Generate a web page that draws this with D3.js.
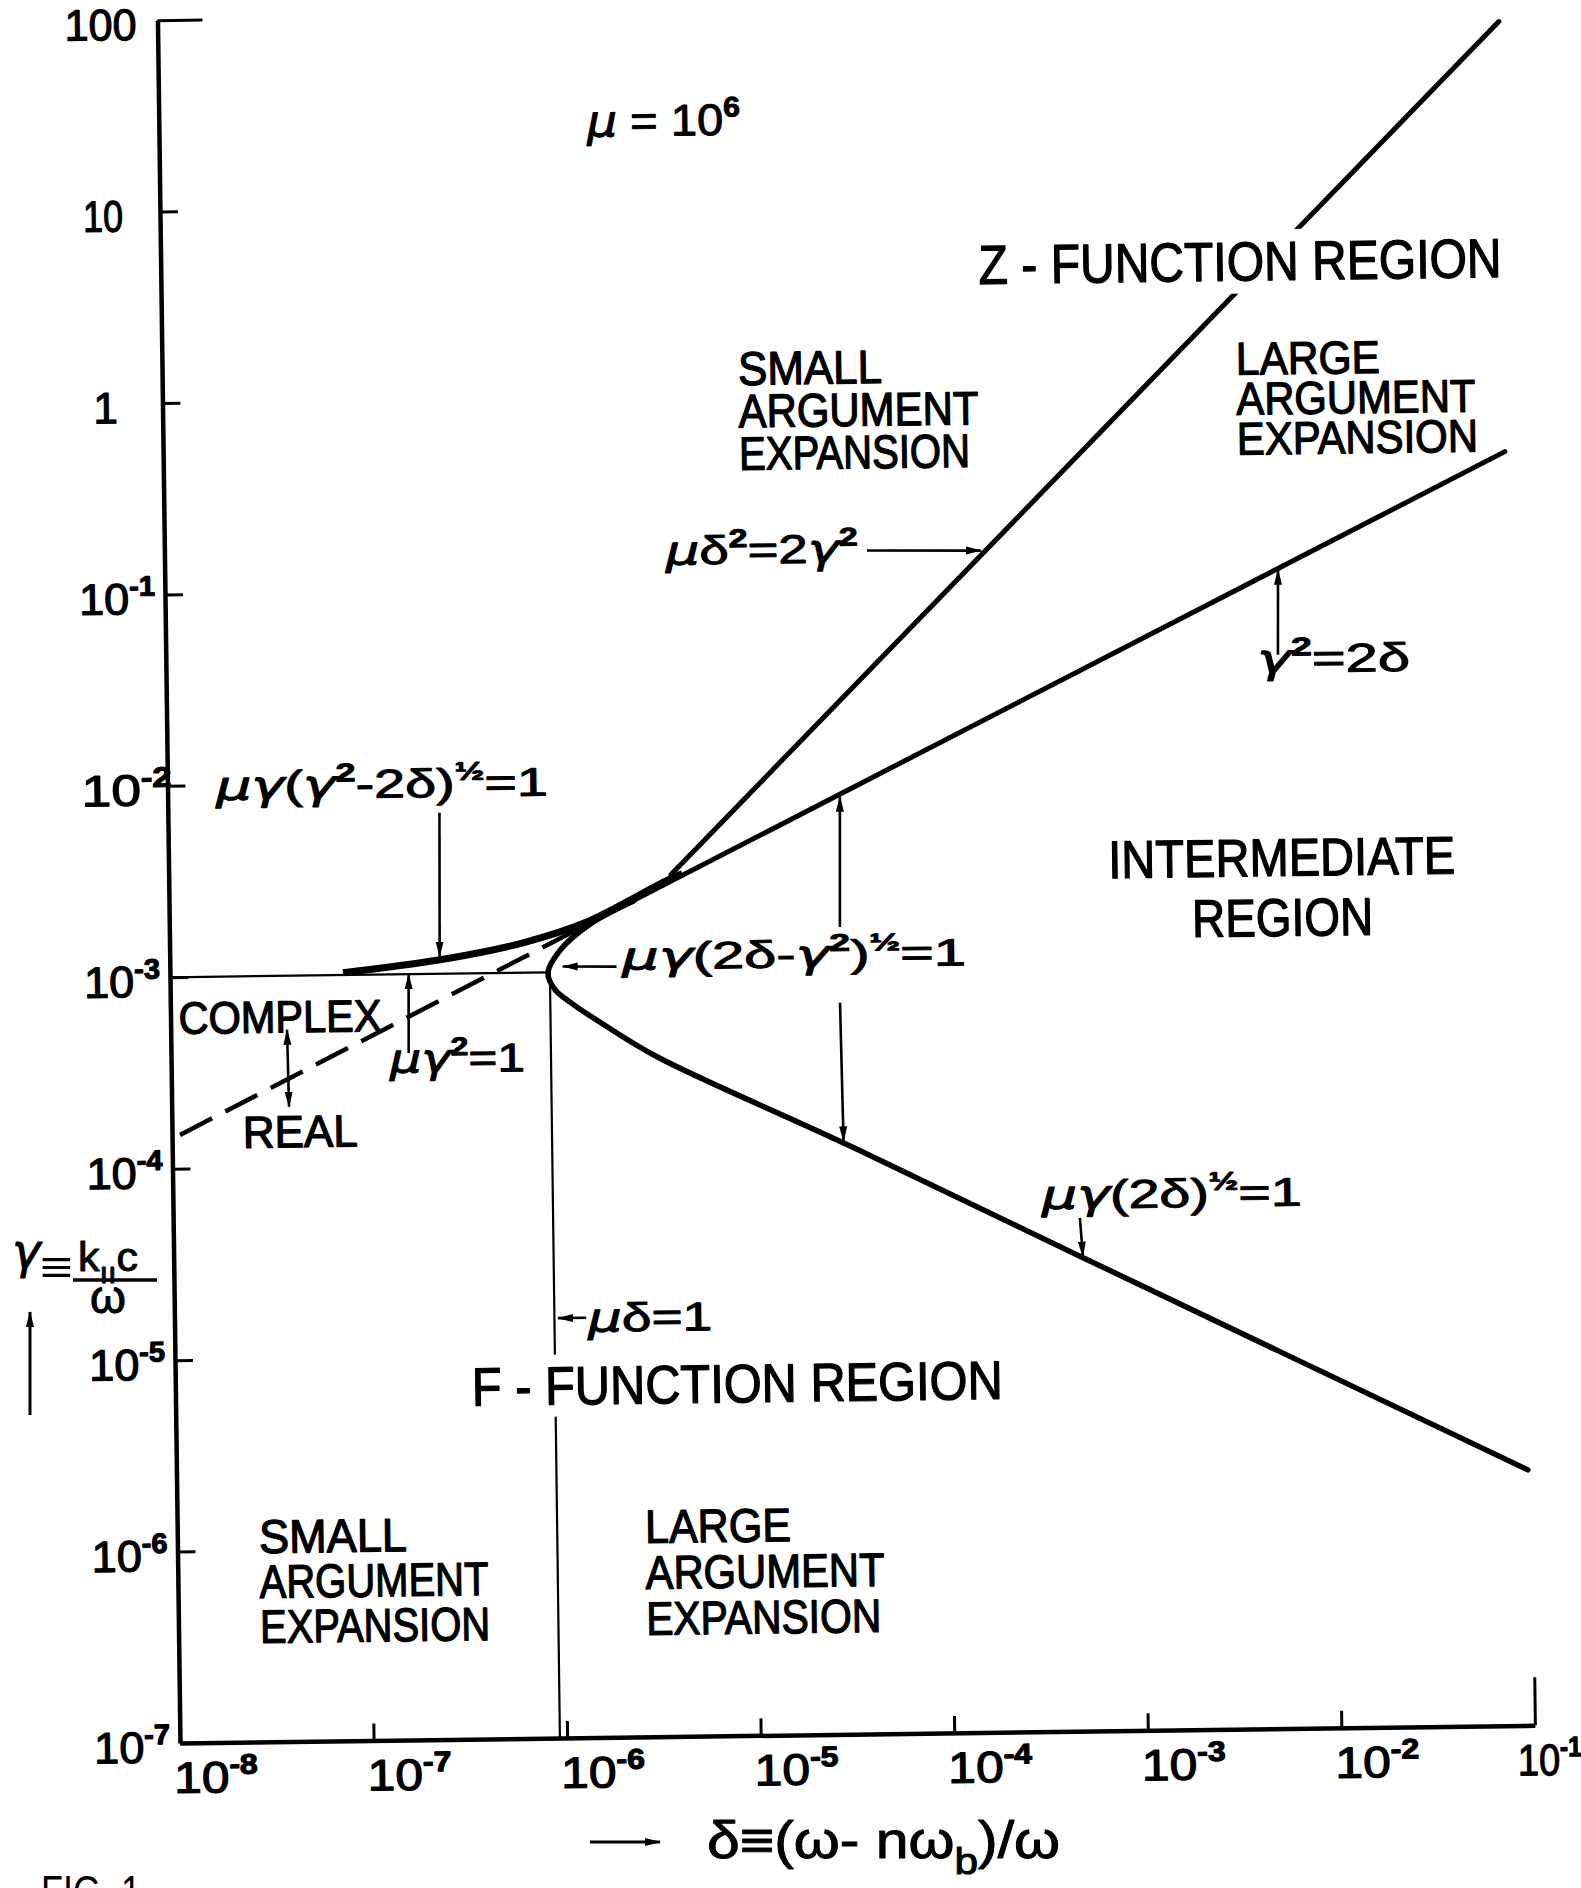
<!DOCTYPE html>
<html>
<head>
<meta charset="utf-8">
<script src="https://cdn.jsdelivr.net/npm/d3@7"></script>
<style>
  html, body { margin: 0; padding: 0; background: #fff; }
  svg { display: block; }
  text { font-family: "Liberation Sans", "DejaVu Sans", sans-serif; fill: #000; }
  .greek { font-family: "DejaVu Sans", "Liberation Sans", sans-serif; }
</style>
</head>
<body>
<svg id="chart" width="1581" height="1888"></svg>
<script>
// values, as (delta, gamma) pairs, mu = 1e6
const deltaTicks = [1e-8, 1e-7, 1e-6, 1e-5, 1e-4, 1e-3, 1e-2, 1e-1]
const gammaTicks = [1e-7, 1e-6, 1e-5, 1e-4, 1e-3, 1e-2, 1e-1, 1, 10, 100]

// mu delta^2 = 2 gamma^2
const zBoundary = [[3.94e-6, 3.18e-3], [8.49e-2, 79.6]]
// gamma^2 = 2 delta (dashed below the nose, solid above)
const resonanceDashed = [[1.10e-8, 1.50e-4], [1.27e-6, 1.66e-3]]
const resonanceSolid = [[1.27e-6, 1.66e-3], [8.53e-2, 0.451]]
// mu gamma (gamma^2 - 2 delta)^1/2 = 1
const upperCurve = [
  [7.83e-8, 1.028e-3], [2.49e-7, 1.183e-3], [6.70e-7, 1.432e-3],
  [1.40e-6, 1.803e-3], [3.79e-6, 2.985e-3], [4.5e-6, 3.2e-3]
]
// mu gamma (2 delta - gamma^2)^1/2 = 1, running into mu gamma (2 delta)^1/2 = 1
const noseCurve = [
  [2.51e-6, 2.33e-3], [1.51e-6, 1.79e-3], [1.045e-6, 1.31e-3], [8.97e-7, 9.95e-4],
  [9.73e-7, 8.11e-4], [1.17e-6, 6.92e-4], [1.67e-6, 5.41e-4], [3.24e-6, 3.56e-4],
  [2.85e-5, 1.245e-4], [4.86e-4, 3.01e-5], [9.57e-2, 2.16e-6]
]
// mu gamma^2 = 1 and mu delta = 1
const gammaLimit = [[1e-8, 1e-3], [8.97e-7, 1e-3]]
const deltaLimit = [[9.18e-7, 1e-3], [9.18e-7, 1e-7]]

// pointer arrows: from -> to (head at "to")
const arrows = [
  { from: [2.53e-7, 6.93e-3], to: [2.48e-7, 1.23e-3] },
  { from: [5.56e-3, 4.06e-2], to: [5.64e-3, 0.113] },
  { from: [4.26e-5, 0.152], to: [1.65e-4, 0.149] },
  { from: [2.03e-6, 1.06e-3], to: [1.07e-6, 1.07e-3] },
  { from: [2.91e-5, 1.65e-3], to: [2.97e-5, 7.9e-3] },
  { from: [2.88e-5, 6.62e-4], to: [2.94e-5, 1.25e-4] },
  { from: [4.83e-4, 4.80e-5], to: [4.98e-4, 3.01e-5] },
  { from: [1.34e-6, 1.56e-5], to: [9.57e-7, 1.56e-5] },
  { from: [1.69e-7, 3.88e-4], to: [1.71e-7, 1.0e-3] },
  { from: [3.99e-8, 5.22e-4], to: [4.04e-8, 2.07e-4], both: true }
]

// labels placed at (delta, gamma) of their left baseline (or centre for "mid")
const labels = [
  { id: "mu", lines: ["μ = 10^{6}"], at: [1.63e-6, 23.0] },
  { id: "zfun", lines: ["Z - FUNCTION REGION"], at: [1.68e-4, 3.68] },
  { id: "smallUp", lines: ["SMALL", "ARGUMENT", "EXPANSION"], at: [9.44e-6, 1.135] },
  { id: "largeUp", lines: ["LARGE", "ARGUMENT", "EXPANSION"], at: [3.53e-3, 1.186] },
  { id: "zeq", lines: ["μδ^{2}=2γ^{2}"], at: [3.89e-6, 0.132] },
  { id: "reseq", lines: ["γ^{2}=2δ"], at: [4.33e-3, 0.0328] },
  { id: "upeq", lines: ["μγ(γ^{2}-2δ)^{½}=1"], at: [1.78e-8, 8.38e-3] },
  { id: "noseq", lines: ["μγ(2δ-γ^{2})^{½}=1"], at: [2.17e-6, 1.02e-3] },
  { id: "loweq", lines: ["μγ(2δ)^{½}=1"], at: [3.08e-4, 5.37e-5] },
  { id: "inter", lines: ["INTERMEDIATE", "REGION"], at: [5.64e-3, 2.84e-3] },
  { id: "complex", lines: ["COMPLEX"], at: [1.10e-8, 5.06e-4] },
  { id: "real", lines: ["REAL"], at: [2.32e-8, 1.27e-4] },
  { id: "geq", lines: ["μγ^{2}=1"], at: [1.35e-7, 3.06e-4] },
  { id: "deq", lines: ["μδ=1"], at: [1.37e-6, 1.32e-5] },
  { id: "ffun", lines: ["F - FUNCTION REGION"], at: [3.40e-7, 5.51e-6] },
  { id: "smallLo", lines: ["SMALL", "ARGUMENT", "EXPANSION"], at: [2.64e-8, 9.70e-7] },
  { id: "largeLo", lines: ["LARGE", "ARGUMENT", "EXPANSION"], at: [2.61e-6, 1.03e-6] }
]

// type size, line gap and lettered width of each label
const labelStyle = {
  mu: { size: 44, widths: [153], pen: 1 },
  zfun: { size: 55, widths: [523], knockout: true, pen: 1.3 },
  smallUp: { size: 47, gap: 42.5, widths: [144, 240, 231], pen: 1.3 },
  largeUp: { size: 46, gap: 40, widths: [144, 239, 241], pen: 1.3 },
  zeq: { size: 40, widths: [192], pen: 1 },
  reseq: { size: 40, widths: [153], pen: 1 },
  upeq: { size: 40, widths: [332], pen: 1 },
  noseq: { size: 38, widths: [344], pen: 1 },
  loweq: { size: 40, widths: [260], pen: 1 },
  inter: { size: 53, gap: 60, widths: [347, 181], mid: true, pen: 1.3 },
  complex: { size: 45, widths: [203], pen: 1.3 },
  real: { size: 45, widths: [115], pen: 1.3 },
  geq: { size: 40, widths: [135], pen: 1 },
  deq: { size: 40, widths: [124], pen: 1 },
  ffun: { size: 54, widths: [531], knockout: true, pen: 1.3 },
  smallLo: { size: 47, gap: 45, widths: [148, 229, 230], pen: 1.3 },
  largeLo: { size: 47, gap: 46, widths: [146, 239, 235], pen: 1.3 }
}

const svg = d3.select("#chart")
svg.append("rect").attr("width", 1581).attr("height", 1888).attr("fill", "#fff")

const defs = svg.append("defs")
defs.append("marker")
  .attr("id", "head")
  .attr("viewBox", "0 0 16 10")
  .attr("refX", 15).attr("refY", 5)
  .attr("markerWidth", 16).attr("markerHeight", 10)
  .attr("markerUnits", "userSpaceOnUse")
  .attr("orient", "auto-start-reverse")
  .append("path").attr("d", "M0,1 L16,5 L0,9 Z").attr("fill", "#000")

const x = d3.scaleLog().domain([1e-8, 1e-1]).range([180, 1535])
const y = d3.scaleLog().domain([1e-7, 1e2]).range([1743, 20])

// the original plate sits slightly turned on the scan
const plate = svg.append("g").attr("transform", "rotate(-0.75,180,1743)")

// text with ^{sup}, _{sub} and italic mu / gamma
function rich(sel, str, size) {
  const parts = str.match(/\^\{[^}]*\}|_\{[^}]*\}|[μγ]|[^μγ^_]+/g)
  let shift = 0
  parts.forEach(p => {
    let txt = p, dy = 0, fs = size, italic = false, bold = false
    if (p.startsWith("^{")) { txt = p.slice(2, -1); fs = size * 0.64; dy = -size * 0.42; bold = true }
    else if (p.startsWith("_{")) { txt = p.slice(2, -1); fs = size * 0.72; dy = size * 0.3 }
    else if (p === "μ" || p === "γ") italic = true
    const t = sel.append("tspan").text(txt).attr("font-size", fs).attr("dy", dy - shift)
    if (italic) t.attr("class", "greek").attr("font-style", "italic")
    if (bold) t.attr("font-weight", "bold")
    shift = dy
  })
}

function pen(sel, w) {
  sel.attr("stroke", "#000").attr("stroke-width", w).attr("stroke-linejoin", "round")
}

function powerText(v) {
  const e = Math.round(Math.log10(v))
  return e >= 0 ? String(Math.round(v)) : "10^{" + e + "}"
}

// axes
const xAxis = d3.axisBottom(x).tickValues(deltaTicks).tickSize(-17).tickSizeOuter(0).tickFormat(() => "")
const gx = plate.append("g").attr("transform", `translate(0,${y(1e-7)})`).call(xAxis)
gx.select(".domain").attr("stroke", "#000").attr("stroke-width", 4.5)
gx.selectAll(".tick line").attr("stroke", "#000").attr("stroke-width", 3)
  .filter(d => d === 1e-1).attr("y2", -48)
gx.selectAll(".tick text").remove()
gx.selectAll(".tick").append("text")
  .attr("x", d => d === 1e-1 ? -18 : -7).attr("y", 50)
  .attr("font-size", 44).attr("text-anchor", "start")
  .attr("textLength", d => d === 1e-1 ? 64 : 84).attr("lengthAdjust", "spacingAndGlyphs")
  .call(pen, 1.2)
  .each(function (d) { rich(d3.select(this), powerText(d), 44) })

const yAxis = d3.axisLeft(y).tickValues(gammaTicks).tickSize(-18).tickSizeOuter(0).tickFormat(() => "")
const gy = plate.append("g").attr("transform", `translate(${x(1e-8)},0)`).call(yAxis)
gy.select(".domain").attr("stroke", "#000").attr("stroke-width", 4.5)
gy.selectAll(".tick line").attr("stroke", "#000").attr("stroke-width", 3)
  .filter(d => d === 100).attr("x2", 45)
gy.selectAll(".tick text").remove()
gy.selectAll(".tick").append("text")
  .attr("y", 19).attr("font-size", 44)
  .attr("x", d => d >= 1 ? -57 : -86)
  .attr("text-anchor", d => d >= 1 ? "middle" : "start")
  .call(pen, 1.2)
  .each(function (d) {
    const t = d3.select(this)
    rich(t, powerText(d), 44)
    const len = d >= 1 ? (d === 100 ? 72 : d === 10 ? 40 : 0) : (d === 1e-2 ? 90 : 76)
    if (len) t.attr("textLength", len).attr("lengthAdjust", "spacingAndGlyphs")
  })

// curves
const straight = d3.line().x(d => x(d[0])).y(d => y(d[1]))
const smooth = d3.line().x(d => x(d[0])).y(d => y(d[1])).curve(d3.curveCatmullRom.alpha(0.5))

const curves = plate.append("g").attr("fill", "none").attr("stroke", "#000")
curves.append("path").attr("d", straight(gammaLimit)).attr("stroke-width", 2.2)
curves.append("path").attr("d", straight(deltaLimit)).attr("stroke-width", 2.2)
curves.append("path").attr("d", straight(resonanceDashed)).attr("stroke-width", 4.5)
  .attr("stroke-dasharray", "36 15")
curves.append("path").attr("d", straight(resonanceSolid)).attr("stroke-width", 5).attr("stroke-linecap", "round")
curves.append("path").attr("d", straight(zBoundary)).attr("stroke-width", 5).attr("stroke-linecap", "round")
curves.append("path").attr("d", smooth(upperCurve)).attr("stroke-width", 7)
curves.append("path").attr("d", smooth(noseCurve)).attr("stroke-width", 5.5).attr("stroke-linecap", "round")

// arrows
plate.append("g").selectAll("line")
  .data(arrows)
  .enter().append("line")
  .attr("x1", d => x(d.from[0])).attr("y1", d => y(d.from[1]))
  .attr("x2", d => x(d.to[0])).attr("y2", d => y(d.to[1]))
  .attr("stroke", "#000").attr("stroke-width", 2.6)
  .attr("marker-end", "url(#head)")
  .attr("marker-start", d => d.both ? "url(#head)" : null)

// labels
const labelLayer = plate.append("g")
labels.forEach(lab => {
  const st = labelStyle[lab.id]
  lab.lines.forEach((ln, i) => {
    const t = labelLayer.append("text")
      .attr("x", x(lab.at[0]))
      .attr("y", y(lab.at[1]) + i * (st.gap || 0))
      .attr("font-size", st.size)
      .attr("text-anchor", st.mid ? "middle" : "start")
      .attr("textLength", st.widths[i]).attr("lengthAdjust", "spacingAndGlyphs")
      .call(pen, st.pen)
    rich(t, ln, st.size)
    if (st.knockout) {
      const b = t.node().getBBox()
      labelLayer.insert("rect", () => t.node())
        .attr("x", b.x - 4).attr("y", b.y - 1)
        .attr("width", b.width + 8).attr("height", b.height + 2)
        .attr("fill", "#fff")
    }
  })
})

// axis titles
const yTitle = svg.append("g")
yTitle.append("text").attr("class", "greek").attr("x", 12).attr("y", 1268).attr("font-size", 48)
  .attr("font-style", "italic").call(pen, 1).text("γ")
yTitle.append("text").attr("x", 40).attr("y", 1282).attr("font-size", 44)
  .attr("font-weight", "bold").attr("textLength", 33).attr("lengthAdjust", "spacingAndGlyphs").text("≡")
const kc = yTitle.append("text").attr("x", 78).attr("y", 1271).attr("font-size", 40)
  .attr("textLength", 60).attr("lengthAdjust", "spacingAndGlyphs").call(pen, 1)
rich(kc, "k_{ıı}c", 40)
yTitle.append("line").attr("x1", 73).attr("x2", 157).attr("y1", 1280).attr("y2", 1280)
  .attr("stroke", "#000").attr("stroke-width", 3.5)
yTitle.append("text").attr("x", 108).attr("y", 1313).attr("font-size", 46)
  .attr("text-anchor", "middle").call(pen, 1).text("ω")
yTitle.append("line").attr("x1", 30).attr("y1", 1415).attr("x2", 30).attr("y2", 1312)
  .attr("stroke", "#000").attr("stroke-width", 3).attr("marker-end", "url(#head)")

const xTitle = svg.append("g")
xTitle.append("line").attr("x1", 590).attr("y1", 1842).attr("x2", 660).attr("y2", 1842)
  .attr("stroke", "#000").attr("stroke-width", 3).attr("marker-end", "url(#head)")
const xt = xTitle.append("text").attr("x", 707).attr("y", 1858).attr("font-size", 52)
  .attr("textLength", 353).attr("lengthAdjust", "spacingAndGlyphs").call(pen, 1)
rich(xt, "δ≡(ω- nω_{b})/ω", 52)

svg.append("text").attr("x", 41).attr("y", 1908).attr("font-size", 46)
  .attr("textLength", 100).attr("lengthAdjust", "spacingAndGlyphs").text("FIG. 1")
</script>
</body>
</html>
